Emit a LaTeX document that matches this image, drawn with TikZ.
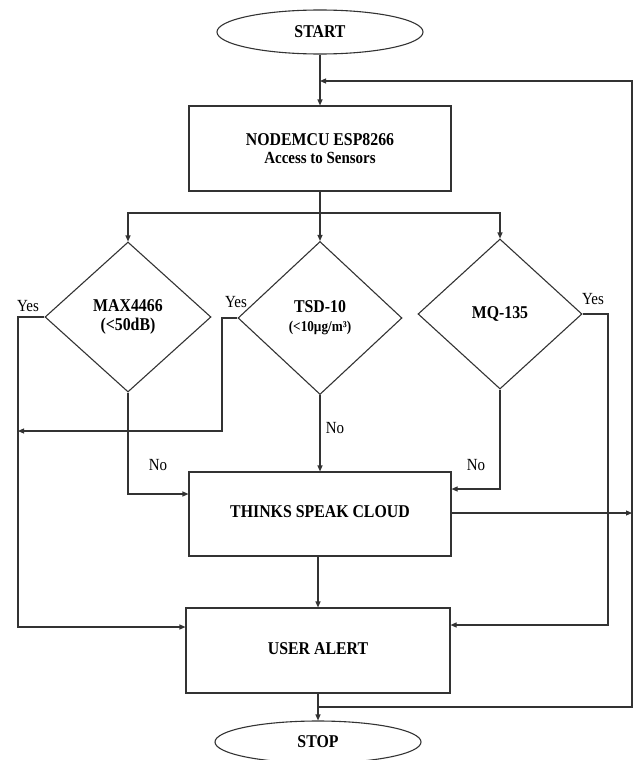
\documentclass[tikz,border=0pt]{standalone}
\usepackage{fontspec}
\setmainfont[FakeStretch=0.88]{Liberation Serif}
\usetikzlibrary{shapes.geometric,arrows.meta,calc}
\definecolor{ln}{HTML}{333333}
\begin{document}
\begin{tikzpicture}[x=1pt,y=-1pt,
  line width=1.1pt,
  every node/.style={text=black},
  conn/.style={draw=ln,line width=1.1pt},
  arr/.style={conn,-{Triangle[length=6pt,width=5pt]}},
  term/.style={ellipse,draw=ln,line width=1.1pt,inner sep=0pt,font=\fontsize{18}{20}\selectfont\bfseries},
  procbox/.style={rectangle,draw=ln,line width=1.1pt,inner sep=0pt,font=\fontsize{18}{22}\selectfont\bfseries,align=center},
  decide/.style={diamond,draw=ln,line width=1.1pt,inner sep=0pt,font=\fontsize{18}{22}\selectfont\bfseries,align=center},
  lbl/.style={font=\fontsize{17}{19}\selectfont,inner sep=0pt}]
\useasboundingbox (0,0) rectangle (635,760);

\node[term,minimum width=206pt,minimum height=44pt] (start) at (320,32) {START};
\node[procbox,minimum width=262pt,minimum height=85pt] (esp) at (320,148.5)
  {NODEMCU ESP8266\\[-4pt]{\fontsize{17}{18}\selectfont Access to Sensors}};
\node[decide,minimum width=166pt,minimum height=150pt] (max) at (128,317) {MAX4466\\[-3pt](<50dB)};
\node[decide,minimum width=164pt,minimum height=153pt] (tsd) at (320,318)
  {TSD-10\\[-3pt]{\fontsize{15}{16}\selectfont (<10µg/m³)}};
\node[decide,minimum width=164pt,minimum height=150pt] (mq) at (500,314) {MQ-135};
\node[procbox,minimum width=262pt,minimum height=84pt] (cloud) at (320,514)
  {\raisebox{4pt}{THINKS SPEAK CLOUD}};
\node[procbox,minimum width=264pt,minimum height=85pt] (alert) at (318,650.5)
  {\raisebox{4pt}{USER ALERT}};
\node[term,minimum width=206pt,minimum height=42pt] (stop) at (318,742) {STOP};

\coordinate (loopin) at (320,81);
\coordinate (br) at (320,213);
\coordinate (jn) at (318,707);
\coordinate (rtop) at (632,81);
\coordinate (rbot) at (632,707);
\coordinate (rmid) at (632,513);
\coordinate (lyes) at (18,431);

% main flow
\draw[arr] (start) -- (esp.north);
\draw[arr] (esp.south) -- (tsd.north);
\draw[arr] (br) -| (max.north);
\draw[arr] (br) -| (mq.north);

% loop back
\draw[conn] (alert.south) -- (jn);
\draw[arr] (jn) -- (stop.north);
\draw[arr] (jn) -- (rbot) -- (rtop) -- (loopin);

% MAX4466
\draw[arr] (max.west) -| (18,627) -- (alert.west |- 0,627);
\draw[arr] (max.south) |- (cloud.west |- 0,494);

% TSD-10
\draw[arr] (tsd.west) -| (222,431) -- (lyes);
\draw[arr] (tsd.south) -- (cloud.north);

% MQ-135
\draw[arr] (mq.south) |- (cloud.east |- 0,489);
\draw[arr] (mq.east) -| (608,625) -- (alert.east |- 0,625);

% cloud
\draw[arr] (alert.north |- cloud.south) -- (alert.north);
\draw[arr] (cloud.east |- 0,513) -- (rmid);

% labels
\node[lbl] (y1) at (28,306) {Yes};
\node[lbl] (y2) at (236,302) {Yes};
\node[lbl] (y3) at (593,299) {Yes};
\node[lbl] (n1) at (335,428) {No};
\node[lbl] (n2) at (158,465) {No};
\node[lbl] (n3) at (476,465) {No};
\end{tikzpicture}
\end{document}
